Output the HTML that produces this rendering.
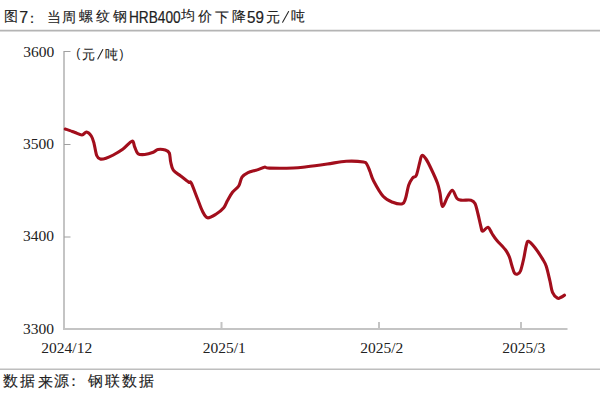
<!DOCTYPE html>
<html><head><meta charset="utf-8">
<style>
html,body{margin:0;padding:0;background:#fff;}
body{width:600px;height:400px;position:relative;overflow:hidden;font-family:"Liberation Sans",sans-serif;}
span{position:absolute;white-space:nowrap;line-height:1;color:#222;transform-origin:0 0;}
#t0,#t2,#t3,#t4,#t5,#t6,#t7,#t9,#t10,#t11,#t12,#t14,#t16,#s0,#s1,#s2,#s3,#s4,#s5,#s6,#s7,#s8,#u1,#u3{-webkit-text-stroke:0.12px #222;}
#t1,#t8,#t13{-webkit-text-stroke:0.2px #222;}
.hl{position:absolute;left:0;width:600px;height:2px;background:#b8b8b8;}
svg{position:absolute;left:0;top:0;}
</style></head><body>
<svg width="600" height="400" viewBox="0 0 600 400">
<path d="M0 30.6H600" stroke="#b4b4b4" stroke-width="1.6"/>
<path d="M0 369.2H600" stroke="#bebebe" stroke-width="1.6"/>
<path d="M282.6 22.2L288.6 11.6M97.8 59L102.8 49.6" stroke="#2a2a2a" stroke-width="1.1" stroke-linecap="round"/>
<g stroke="#c4c4c4" stroke-width="2" fill="none">
<path d="M64 51V329H567.5"/>
<path d="M221.5 328V322M379 328V322M521 328V322"/>
</g>
<g stroke="#a0a0a0" stroke-width="1" fill="none">
<path d="M64 51.5H70.5M64 144.5H70.5M64 237H70.5"/>
</g>
<path fill="none" stroke="#a20e1c" stroke-width="3.1" stroke-linejoin="round" stroke-linecap="round" d="M65.30 129.00 C66.08 129.27 68.38 130.02 70.00 130.60 C71.62 131.18 73.00 131.77 75.00 132.50 C77.00 133.23 80.08 135.08 82.00 135.00 C83.92 134.92 84.95 131.83 86.50 132.00 C88.05 132.17 90.05 134.12 91.30 136.00 C92.55 137.88 93.10 140.05 94.00 143.30 C94.90 146.55 95.65 152.88 96.70 155.50 C97.75 158.12 98.75 158.55 100.30 159.00 C101.85 159.45 103.83 158.87 106.00 158.20 C108.17 157.53 110.52 156.48 113.30 155.00 C116.08 153.52 119.58 151.60 122.70 149.30 C125.82 147.00 130.00 141.58 132.00 141.20 C134.00 140.82 133.70 144.92 134.70 147.00 C135.70 149.08 136.33 152.45 138.00 153.70 C139.67 154.95 142.15 154.75 144.70 154.50 C147.25 154.25 151.08 153.05 153.30 152.20 C155.52 151.35 156.00 149.77 158.00 149.40 C160.00 149.03 163.42 149.40 165.30 150.00 C167.18 150.60 168.40 151.00 169.30 153.00 C170.20 155.00 170.03 159.13 170.70 162.00 C171.37 164.87 171.63 167.87 173.30 170.20 C174.97 172.53 178.13 174.00 180.70 176.00 C183.27 178.00 186.94 181.03 188.70 182.20 C190.46 183.37 189.78 180.24 191.25 183.00 C192.72 185.76 195.62 194.04 197.50 198.75 C199.38 203.46 200.83 208.07 202.50 211.25 C204.17 214.43 205.21 217.34 207.50 217.80 C209.79 218.26 213.54 215.67 216.25 214.00 C218.96 212.33 221.88 210.05 223.75 207.80 C225.62 205.55 226.04 203.10 227.50 200.50 C228.96 197.90 230.63 194.62 232.50 192.20 C234.37 189.78 237.12 188.50 238.70 186.00 C240.28 183.50 240.45 179.43 242.00 177.20 C243.55 174.97 245.45 173.82 248.00 172.60 C250.55 171.38 254.57 170.80 257.30 169.90 C260.03 169.00 262.40 167.50 264.40 167.20 C266.40 166.90 264.48 167.97 269.30 168.10 C274.12 168.23 287.07 168.23 293.30 168.00 C299.53 167.77 301.03 167.37 306.70 166.70 C312.37 166.03 320.71 164.90 327.30 164.00 C333.89 163.10 340.22 161.63 346.25 161.30 C352.28 160.97 360.04 161.47 363.50 162.00 C366.96 162.53 365.92 162.92 367.00 164.50 C368.08 166.08 368.92 168.78 370.00 171.50 C371.08 174.22 371.32 176.67 373.50 180.80 C375.68 184.93 379.89 192.72 383.10 196.30 C386.31 199.88 389.53 201.05 392.75 202.30 C395.97 203.55 400.27 204.43 402.40 203.80 C404.52 203.17 404.44 201.63 405.50 198.50 C406.56 195.37 407.58 188.40 408.75 185.00 C409.92 181.60 411.24 179.72 412.50 178.10 C413.76 176.48 415.12 177.82 416.30 175.30 C417.48 172.78 418.67 166.30 419.60 163.00 C420.53 159.70 420.83 156.17 421.90 155.50 C422.97 154.83 424.44 156.75 426.00 159.00 C427.56 161.25 429.35 165.00 431.25 169.00 C433.15 173.00 435.94 179.00 437.40 183.00 C438.86 187.00 439.17 189.10 440.00 193.00 C440.83 196.90 441.15 205.73 442.40 206.40 C443.65 207.07 445.83 199.68 447.50 197.00 C449.17 194.32 450.82 190.05 452.40 190.30 C453.98 190.55 455.40 196.85 457.00 198.50 C458.60 200.15 459.67 199.92 462.00 200.20 C464.33 200.48 468.83 199.65 471.00 200.20 C473.17 200.75 473.83 201.20 475.00 203.50 C476.17 205.80 477.00 210.08 478.00 214.00 C479.00 217.92 480.22 224.13 481.00 227.00 C481.78 229.87 481.53 231.17 482.70 231.20 C483.87 231.23 486.45 226.82 488.00 227.20 C489.55 227.58 490.54 231.32 492.00 233.50 C493.46 235.68 494.48 237.50 496.75 240.25 C499.02 243.00 503.49 247.21 505.60 250.00 C507.71 252.79 508.33 254.33 509.40 257.00 C510.47 259.67 511.15 263.30 512.00 266.00 C512.85 268.70 513.58 271.87 514.50 273.20 C515.42 274.53 516.50 274.37 517.50 274.00 C518.50 273.63 519.46 273.58 520.50 271.00 C521.54 268.42 522.79 262.75 523.75 258.50 C524.71 254.25 525.44 248.37 526.25 245.50 C527.06 242.63 527.14 240.92 528.60 241.30 C530.06 241.68 532.68 244.87 535.00 247.80 C537.32 250.73 540.62 255.82 542.50 258.90 C544.38 261.97 545.00 262.52 546.25 266.25 C547.50 269.98 548.96 276.91 550.00 281.25 C551.04 285.59 551.25 289.48 552.50 292.30 C553.75 295.12 556.08 297.37 557.50 298.20 C558.92 299.03 559.83 297.80 561.00 297.30 C562.17 296.80 563.92 295.55 564.50 295.20"/>
</svg>
<span id="t0" style="left:4.00px;top:9.20px;font-family:'Liberation Sans',sans-serif;font-size:14.00px">图</span>
<span id="t1" style="left:19.34px;top:10.00px;font-family:'Liberation Sans',sans-serif;font-size:16.00px">7</span>
<span id="t2" style="left:25.00px;top:10.64px;font-family:'Liberation Sans',sans-serif;font-size:14.00px">：</span>
<span id="t3" style="left:46.86px;top:9.68px;font-family:'Liberation Sans',sans-serif;font-size:14.00px">当</span>
<span id="t4" style="left:61.93px;top:9.80px;font-family:'Liberation Sans',sans-serif;font-size:14.00px">周</span>
<span id="t5" style="left:79.25px;top:9.06px;font-family:'Liberation Sans',sans-serif;font-size:14.00px">螺</span>
<span id="t6" style="left:96.46px;top:9.00px;font-family:'Liberation Sans',sans-serif;font-size:14.00px">纹</span>
<span id="t7" style="left:113.33px;top:8.52px;font-family:'Liberation Sans',sans-serif;font-size:14.00px">钢</span>
<span id="t8" style="left:128.94px;top:10.25px;font-family:'Liberation Sans',sans-serif;font-size:15.80px;transform:scaleX(0.8650)">HRB400</span>
<span id="t9" style="left:181.36px;top:8.31px;font-family:'Liberation Sans',sans-serif;font-size:14.00px">均</span>
<span id="t10" style="left:197.89px;top:9.00px;font-family:'Liberation Sans',sans-serif;font-size:14.00px">价</span>
<span id="t11" style="left:215.21px;top:9.81px;font-family:'Liberation Sans',sans-serif;font-size:14.00px">下</span>
<span id="t12" style="left:232.08px;top:9.00px;font-family:'Liberation Sans',sans-serif;font-size:14.00px">降</span>
<span id="t13" style="left:247.14px;top:10.25px;font-family:'Liberation Sans',sans-serif;font-size:15.80px;transform:scaleX(0.9600)">59</span>
<span id="t14" style="left:266.34px;top:9.80px;font-family:'Liberation Sans',sans-serif;font-size:14.00px">元</span>
<span id="t16" style="left:290.53px;top:9.00px;font-family:'Liberation Sans',sans-serif;font-size:14.00px">吨</span>
<span id="u0" style="left:76.35px;top:46.88px;font-family:'Liberation Sans',sans-serif;font-size:12.00px">(</span>
<span id="u1" style="left:82.31px;top:49.14px;font-family:'Liberation Sans',sans-serif;font-size:12.50px">元</span>
<span id="u3" style="left:104.77px;top:48.99px;font-family:'Liberation Sans',sans-serif;font-size:12.50px">吨</span>
<span id="u4" style="left:119.44px;top:47.50px;font-family:'Liberation Sans',sans-serif;font-size:12.00px">)</span>
<span id="s0" style="left:3.27px;top:374.11px;font-family:'Liberation Sans',sans-serif;font-size:14.50px">数</span>
<span id="s1" style="left:19.95px;top:374.36px;font-family:'Liberation Sans',sans-serif;font-size:14.50px">据</span>
<span id="s2" style="left:37.59px;top:374.86px;font-family:'Liberation Sans',sans-serif;font-size:14.50px">来</span>
<span id="s3" style="left:54.09px;top:373.69px;font-family:'Liberation Sans',sans-serif;font-size:14.50px">源</span>
<span id="s4" style="left:66.15px;top:374.28px;font-family:'Liberation Sans',sans-serif;font-size:14.50px">：</span>
<span id="s5" style="left:88.20px;top:374.00px;font-family:'Liberation Sans',sans-serif;font-size:14.50px">钢</span>
<span id="s6" style="left:105.11px;top:374.08px;font-family:'Liberation Sans',sans-serif;font-size:14.50px">联</span>
<span id="s7" style="left:122.27px;top:374.11px;font-family:'Liberation Sans',sans-serif;font-size:14.50px">数</span>
<span id="s8" style="left:138.95px;top:374.36px;font-family:'Liberation Sans',sans-serif;font-size:14.50px">据</span>
<span id="y0" style="left:23.15px;top:43.80px;font-family:'Liberation Serif',serif;font-size:15.50px">3600</span>
<span id="y1" style="left:23.04px;top:136.00px;font-family:'Liberation Serif',serif;font-size:15.50px">3500</span>
<span id="y2" style="left:23.04px;top:228.45px;font-family:'Liberation Serif',serif;font-size:15.50px">3400</span>
<span id="y3" style="left:22.99px;top:320.50px;font-family:'Liberation Serif',serif;font-size:15.50px">3300</span>
<span id="x0" style="left:41.36px;top:339.85px;font-family:'Liberation Serif',serif;font-size:15.50px">2024/12</span>
<span id="x1" style="left:202.71px;top:340.20px;font-family:'Liberation Serif',serif;font-size:15.50px">2025/1</span>
<span id="x2" style="left:360.15px;top:340.20px;font-family:'Liberation Serif',serif;font-size:15.50px">2025/2</span>
<span id="x3" style="left:502.15px;top:340.20px;font-family:'Liberation Serif',serif;font-size:15.50px">2025/3</span>
</body></html>
